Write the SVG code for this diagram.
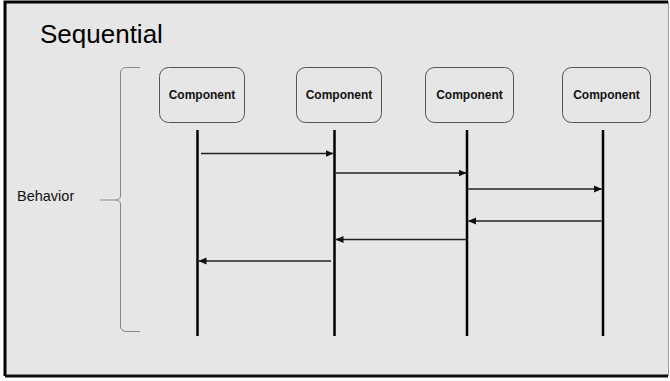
<svg xmlns="http://www.w3.org/2000/svg" width="670" height="381" viewBox="0 0 670 381">
  <style>
    .title { font-family: "Liberation Sans", Arial, sans-serif; font-size: 26px; fill: #000; }
    .label { font-family: "Liberation Sans", Arial, sans-serif; font-size: 14.5px; fill: #111; }
    .node rect { fill: #e6e6e6; stroke: #555; stroke-width: 1; }
    .node text { font-family: "Liberation Sans", Arial, sans-serif; font-size: 12px; font-weight: bold; fill: #111; text-anchor: middle; }
    .lifeline { stroke: #000; stroke-width: 2.5; }
    .msg { stroke: #222; stroke-width: 1.5; fill: none; marker-end: url(#head); }
    .brace { stroke: #888; stroke-width: 1; fill: none; }
  </style>
  <defs>
    <marker id="head" viewBox="0 0 8 8" refX="7.5" refY="4" markerWidth="8" markerHeight="8" markerUnits="userSpaceOnUse" orient="auto">
      <path d="M0,0.5 L8,4 L0,7.5 Z" fill="#111"/>
    </marker>
  </defs>

  <!-- slide frame -->
  <rect x="5" y="2" width="663" height="374" fill="#e6e6e6"/>
  <path d="M668.5,2 V376" stroke="#999" stroke-width="1" fill="none"/>
  <path d="M5,376 V2 H668" stroke="#000" stroke-width="3" fill="none"/>
  <path d="M5,376 H668" stroke="#111" stroke-width="3" fill="none"/>

  <text class="title" x="40" y="43">Sequential</text>

  <!-- behavior brace -->
  <path class="brace" d="M140,67.5 H127 Q120.5,67.5 120.5,73 V196 Q120.5,199.5 116,200 H100 M116,200 Q120.5,200.5 120.5,204 V326 Q120.5,331.5 127,331.5 H140"/>
  <text class="label" x="17" y="201">Behavior</text>

  <!-- participants -->
  <g id="component-1" class="node">
    <rect x="159.5" y="67.5" width="85" height="55" rx="9"/>
    <text x="202" y="98.5">Component</text>
  </g>
  <g id="component-2" class="node">
    <rect x="296.5" y="67.5" width="85" height="55" rx="9"/>
    <text x="339" y="98.5">Component</text>
  </g>
  <g id="component-3" class="node">
    <rect x="425.5" y="67.5" width="88" height="55" rx="9"/>
    <text x="469.5" y="98.5">Component</text>
  </g>
  <g id="component-4" class="node">
    <rect x="562.5" y="67.5" width="88" height="55" rx="9"/>
    <text x="606.5" y="98.5">Component</text>
  </g>

  <!-- lifelines and messages -->
  <g id="connectors">
    <line class="lifeline" x1="197.5" y1="130" x2="197.5" y2="336"/>
    <line class="lifeline" x1="334.5" y1="130" x2="334.5" y2="336"/>
    <line class="lifeline" x1="467" y1="130" x2="467" y2="336"/>
    <line class="lifeline" x1="603" y1="130" x2="603" y2="336"/>

    <line class="msg" x1="201" y1="153.5" x2="333" y2="153.5"/>
    <line class="msg" x1="336" y1="173" x2="466" y2="173"/>
    <line class="msg" x1="468" y1="189" x2="601.5" y2="189"/>
    <line class="msg" x1="601.5" y1="221" x2="468.5" y2="221"/>
    <line class="msg" x1="466" y1="239.5" x2="336" y2="239.5"/>
    <line class="msg" x1="331" y1="261" x2="199" y2="261"/>
  </g>
</svg>
